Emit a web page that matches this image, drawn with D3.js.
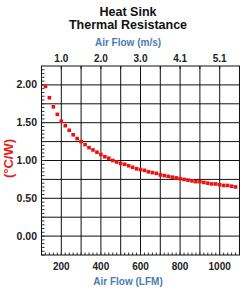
<!DOCTYPE html>
<html lang="en">
<head>
    <meta charset="UTF-8">
    <title>Heat Sink Thermal Resistance</title>
    <script src="https://d3js.org/d3.v7.min.js"></script>
    <style>
        body {
            margin: 0;
            padding: 0;
            background-color: #fff;
            overflow: hidden;
        }
        svg {
            display: block;
            font-family: "Liberation Sans", Arial, sans-serif;
        }
    </style>
</head>
<body>
    <script>
        // Air flow in LFM and thermal resistance in °C/W
        const airFlow = [120, 140, 160, 180, 200, 220, 240, 260, 280, 300,
            320, 340, 360, 380, 400, 420, 440, 460, 480, 500,
            520, 540, 560, 580, 600, 620, 640, 660, 680, 700,
            720, 740, 760, 780, 800, 820, 840, 860, 880, 900,
            920, 940, 960, 980, 1000, 1020, 1040, 1060, 1080];
        const resistance = [1.98, 1.83, 1.71, 1.61, 1.52, 1.46, 1.40, 1.34, 1.29, 1.25,
            1.21, 1.17, 1.14, 1.11, 1.08, 1.05, 1.03, 1.00, 0.98, 0.96,
            0.95, 0.93, 0.91, 0.89, 0.88, 0.87, 0.85, 0.84, 0.83, 0.81,
            0.80, 0.79, 0.78, 0.77, 0.76, 0.75, 0.74, 0.73, 0.72, 0.72,
            0.71, 0.70, 0.69, 0.69, 0.68, 0.67, 0.67, 0.66, 0.65];

        const lfmTicks = [200, 400, 600, 800, 1000];
        const yTicks = [0, 0.5, 1.0, 1.5, 2.0];
        const LFM_PER_MS = 196.85;

        const width = 245, height = 297;
        const pLeft = 41.5, pRight = 239.5, pTop = 66, pBottom = 255;

        const svg = d3.select("body").append("svg")
            .attr("width", width)
            .attr("height", height);

        const x = d3.scaleLinear().domain([100, 1100]).range([pLeft, pRight]);
        const y = d3.scaleLinear().domain([-0.25, 2.25]).range([pBottom, pTop]);

        // grid lines
        const g = svg.append("g");
        g.selectAll(".vgrid")
            .data(d3.range(200, 1100, 100))
            .enter().append("line")
            .attr("x1", d => x(d)).attr("x2", d => x(d))
            .attr("y1", pTop).attr("y2", pBottom)
            .attr("stroke", "#111").attr("stroke-width", 1);

        g.selectAll(".hgrid")
            .data(d3.range(0, 2.01, 0.25))
            .enter().append("line")
            .attr("x1", pLeft).attr("x2", pRight)
            .attr("y1", d => y(d)).attr("y2", d => y(d))
            .attr("stroke", "#111").attr("stroke-width", 1);

        // minor ticks, left and bottom, pointing inward
        g.selectAll(".ltick")
            .data(d3.range(-0.25, 2.25, 0.05))
            .enter().append("line")
            .attr("x1", pLeft).attr("x2", pLeft + 3)
            .attr("y1", d => y(d)).attr("y2", d => y(d))
            .attr("stroke", "#333").attr("stroke-width", 1);

        g.selectAll(".btick")
            .data(d3.range(100, 1100, 20))
            .enter().append("line")
            .attr("x1", d => x(d)).attr("x2", d => x(d))
            .attr("y1", pBottom).attr("y2", pBottom - 2.5)
            .attr("stroke", "#333").attr("stroke-width", 1);

        // top ticks
        g.selectAll(".ttick")
            .data(d3.range(100, 1101, 100))
            .enter().append("line")
            .attr("x1", d => x(d)).attr("x2", d => x(d))
            .attr("y1", pTop).attr("y2", pTop + 3)
            .attr("stroke", "#111").attr("stroke-width", 1);

        // frame
        g.append("rect")
            .attr("x", pLeft).attr("y", pTop)
            .attr("width", pRight - pLeft).attr("height", pBottom - pTop)
            .attr("fill", "none")
            .attr("stroke", "#111").attr("stroke-width", 1);

        // data points
        svg.append("g").selectAll("rect")
            .data(airFlow.map((d, i) => [d, resistance[i]]))
            .enter().append("rect")
            .attr("x", d => x(d[0]) - 1.8)
            .attr("y", d => y(d[1]) - 1.8)
            .attr("width", 3.6).attr("height", 3.6)
            .attr("fill", "#ee1111");

        // tick labels
        svg.selectAll(".ylab")
            .data(yTicks)
            .enter().append("text")
            .attr("x", 37).attr("y", d => y(d) + 3.5)
            .attr("text-anchor", "end")
            .attr("font-size", 10.5).attr("font-weight", "bold")
            .attr("fill", "#222")
            .text(d => d3.format(".2f")(d));

        svg.selectAll(".blab")
            .data(lfmTicks)
            .enter().append("text")
            .attr("x", d => x(d)).attr("y", 270)
            .attr("text-anchor", "middle")
            .attr("font-size", 10).attr("font-weight", "bold")
            .attr("fill", "#222")
            .text(d => d);

        svg.selectAll(".tlab")
            .data(lfmTicks)
            .enter().append("text")
            .attr("x", d => x(d)).attr("y", 62)
            .attr("text-anchor", "middle")
            .attr("font-size", 10).attr("font-weight", "bold")
            .attr("fill", "#222")
            .text(d => d3.format(".1f")(d / LFM_PER_MS));

        // titles
        const title = svg.append("text")
            .attr("x", 128).attr("text-anchor", "middle")
            .attr("font-size", 12.5).attr("font-weight", "bold")
            .attr("fill", "#111");
        title.append("tspan").attr("x", 128).attr("y", 16).text("Heat Sink");
        title.append("tspan").attr("x", 128).attr("y", 29).text("Thermal Resistance");

        svg.append("text")
            .attr("x", 128).attr("y", 46)
            .attr("text-anchor", "middle")
            .attr("font-size", 10).attr("font-weight", "bold")
            .attr("fill", "#4a7bb7")
            .text("Air Flow (m/s)");

        svg.append("text")
            .attr("x", 128).attr("y", 285)
            .attr("text-anchor", "middle")
            .attr("font-size", 10).attr("font-weight", "bold")
            .attr("fill", "#4a7bb7")
            .text("Air Flow (LFM)");

        svg.append("text")
            .attr("transform", `translate(13,${(pTop + pBottom) / 2 - 2}) rotate(-90)`)
            .attr("text-anchor", "middle")
            .attr("font-size", 13).attr("font-weight", "bold")
            .attr("fill", "#e8201c")
            .text("(°C/W)");
    </script>
</body>
</html>
